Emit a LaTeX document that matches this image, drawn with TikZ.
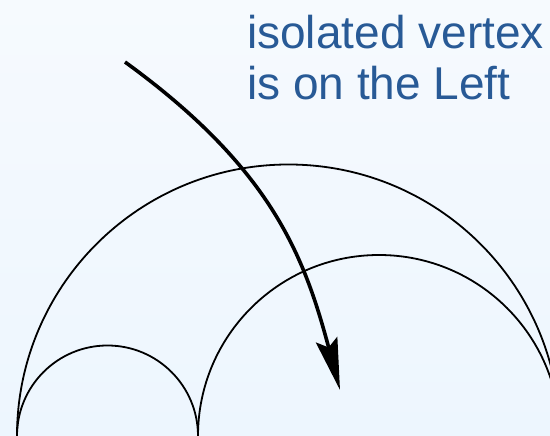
\documentclass[tikz,border=0pt]{standalone}
\usepackage{fontspec}
\setmainfont{Liberation Sans}
\usetikzlibrary{arrows.meta}
\definecolor{bgtop}{RGB}{246,250,254}
\definecolor{bgbot}{RGB}{237,246,254}
\definecolor{labelblue}{RGB}{40,90,150}
\begin{document}
\begin{tikzpicture}[x=1pt,y=1pt,
  halfdisc/.style={line width=1.8pt},
  pointer/.style={line width=3.6pt,-{Stealth[length=52pt,width=22pt,inset=8pt]}}]
\shade[top color=bgtop,bottom color=bgbot] (0,0) rectangle (550,436);
\useasboundingbox (0,0) rectangle (550,436);
\begin{scope}
\clip (0,0) rectangle (550,436);
\draw[halfdisc] (17,0) arc(180:0:271.5);
\draw[halfdisc] (17,0) arc(180:0:90.5);
\draw[halfdisc] (198,0) arc(180:0:181);
\end{scope}
\coordinate (start) at (125,374);
\coordinate (tip) at (340,46);
\draw[pointer] (start) .. controls (271,268) and (304,181) .. (tip);
% base anchor sits on the last line
\node[labelblue,anchor=base west,align=left,font=\fontsize{46}{51}\selectfont,inner sep=0pt] (label) at (247,336) {isolated vertex\\is on the Left};
\end{tikzpicture}
\end{document}
